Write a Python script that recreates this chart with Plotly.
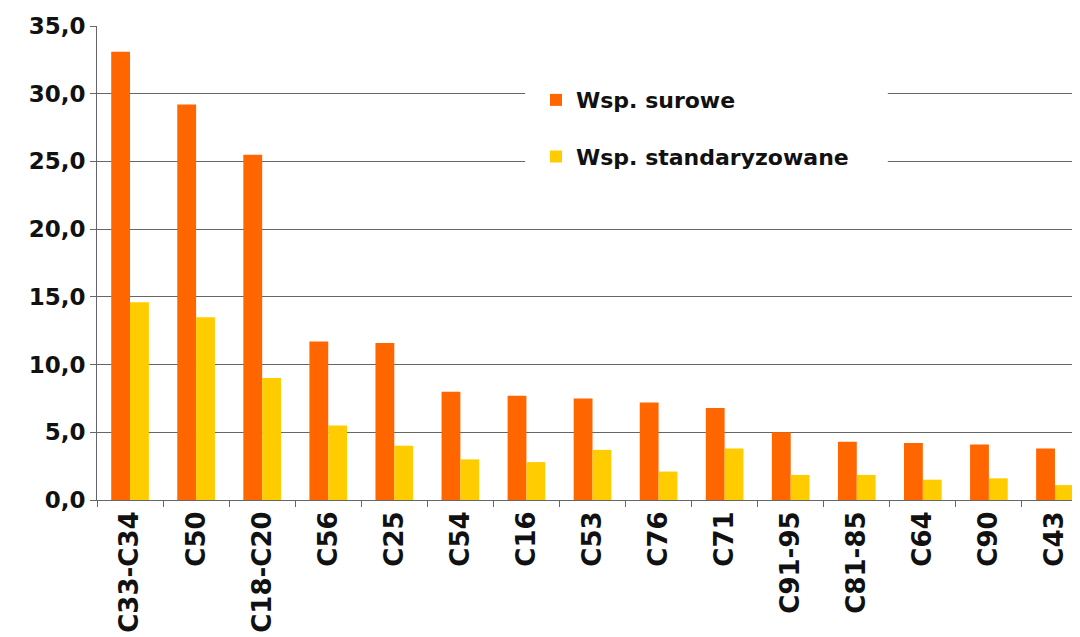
import plotly.graph_objects as go

categories = ["C33-C34", "C50", "C18-C20", "C56", "C25", "C54", "C16", "C53",
              "C76", "C71", "C91-95", "C81-85", "C64", "C90", "C43"]
surowe = [33.1, 29.2, 25.5, 11.7, 11.6, 8.0, 7.7, 7.5, 7.2, 6.8, 5.0, 4.3, 4.2, 4.1, 3.8]
standaryzowane = [14.6, 13.5, 9.0, 5.5, 4.0, 3.0, 2.8, 3.7, 2.1, 3.8, 1.85, 1.85, 1.5, 1.6, 1.1]
yticks = [0, 5, 10, 15, 20, 25, 30, 35]

font_family = "DejaVu Sans"

fig = go.Figure()
fig.add_trace(go.Bar(x=categories, y=surowe, name="<b>Wsp. surowe</b>",
                     marker=dict(color="#FF6600", line=dict(width=0)),
                     legendgroup="a"))
fig.add_trace(go.Bar(x=categories, y=standaryzowane, name="<b>Wsp. standaryzowane</b>",
                     marker=dict(color="#FFCC00", line=dict(width=0)),
                     legendgroup="b"))

# white panel behind legend (blanks gridlines like the original)
fig.add_shape(type="rect", xref="paper", yref="paper",
              x0=0.432, x1=0.798, y0=0.665, y1=0.907,
              fillcolor="white", line=dict(width=0), layer="above")

fig.update_layout(
    width=1080, height=637,
    margin=dict(l=89, r=0, t=18, b=145),
    paper_bgcolor="white", plot_bgcolor="white",
    barmode="group", bargap=0.43, bargroupgap=0,
    separators=", ",
    font=dict(family=font_family, color="#111111"),
    legend=dict(
        x=0.443, y=0.888, xanchor="left", yanchor="top",
        bgcolor="rgba(255,255,255,0)", borderwidth=0,
        font=dict(size=22, family=font_family, color="#111111"),
        tracegroupgap=25, traceorder="grouped",
        itemwidth=30,
    ),
    showlegend=True,
)
fig.update_xaxes(
    type="category", tickangle=-90,
    tickfont=dict(size=26, family=font_family, color="#111111", weight="bold"),
    ticks="outside", tickson="boundaries", ticklen=6, tickcolor="#666666",
    showline=True, linecolor="#666666", linewidth=1,
    showgrid=False, automargin=False,
)
fig.update_yaxes(
    range=[0, 35], tickvals=yticks, tickformat=".1f",
    tickfont=dict(size=23, family=font_family, color="#111111", weight="bold"),
    showgrid=True, gridcolor="#666666", gridwidth=1.3,
    showline=True, linecolor="#666666", linewidth=1,
    ticks="outside", ticklen=6, tickcolor="#666666",
    zeroline=False, automargin=False,
)

fig.write_html("out.html")
